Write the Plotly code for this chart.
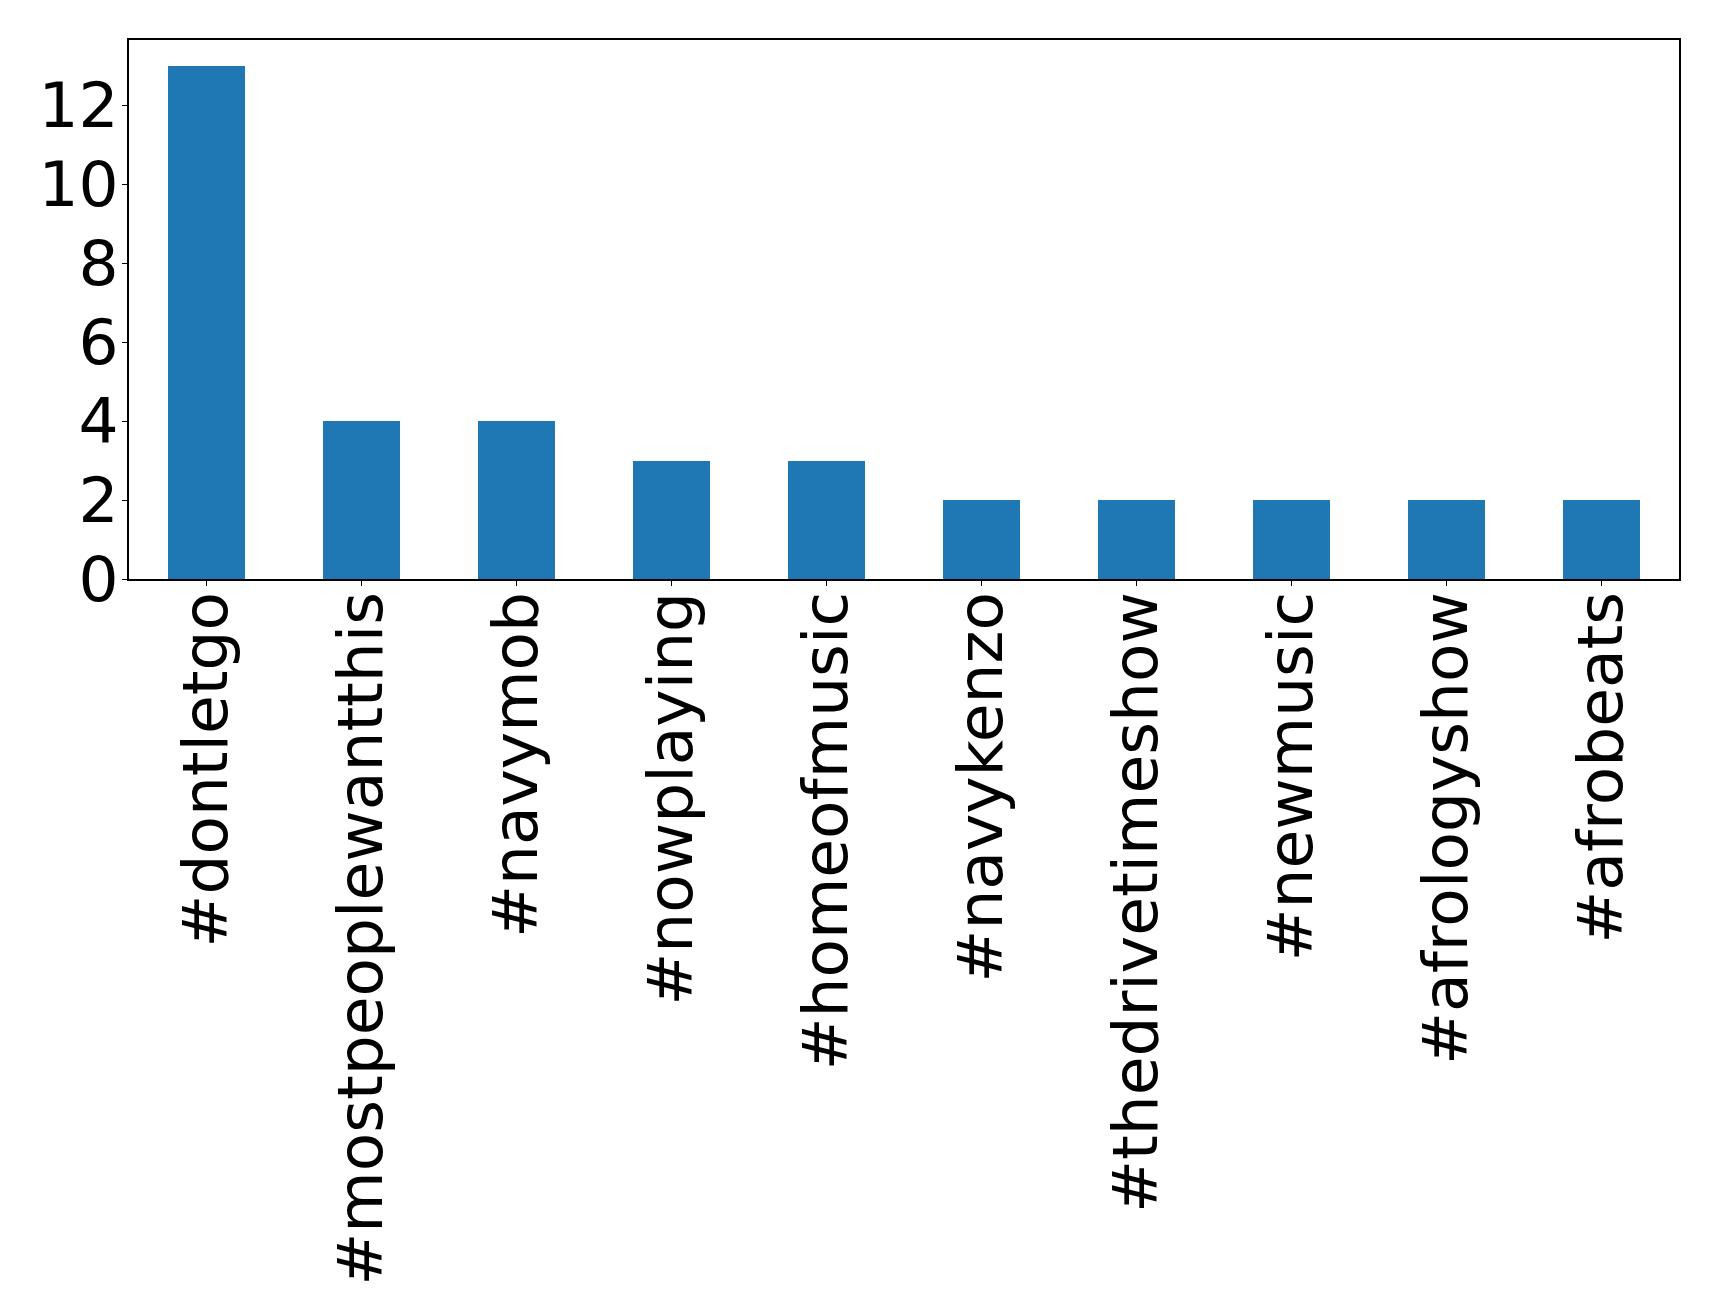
import plotly.graph_objects as go

hashtags = ["#dontletgo", "#mostpeoplewantthis", "#navymob", "#nowplaying", "#homeofmusic",
            "#navykenzo", "#thedrivetimeshow", "#newmusic", "#afrologyshow", "#afrobeats"]
counts = [13, 4, 4, 3, 3, 2, 2, 2, 2, 2]
y_ticks = [0, 2, 4, 6, 8, 10, 12]

fig = go.Figure(go.Bar(x=list(range(len(hashtags))), y=counts, width=0.5,
                       marker=dict(color="#1f77b4", line=dict(width=0))))

# page body has an 8px margin, so the figure is offset by 8px
W, H = 1711, 1308
fig.update_layout(
    width=W, height=H,
    margin=dict(l=121, r=40, t=32, b=737, pad=0),
    paper_bgcolor="white", plot_bgcolor="white",
    font=dict(family="DejaVu Sans", size=63, color="black"),
    showlegend=False,
    bargap=0,
)
fig.update_xaxes(range=[-0.5, 9.5], tickmode="array", tickvals=list(range(len(hashtags))),
                 ticktext=hashtags, tickangle=-90, ticks="outside", ticklen=5, tickwidth=1.3,
                 tickcolor="black", showline=True, linecolor="black", linewidth=1.5, mirror=True,
                 showgrid=False, zeroline=False, ticklabelstandoff=-19)
fig.update_yaxes(range=[0, 13.65], tickmode="array", tickvals=y_ticks,
                 ticks="outside", ticklen=5, tickwidth=1.3, tickcolor="black",
                 showline=True, linecolor="black", linewidth=1.5, mirror=True,
                 showgrid=False, zeroline=False, ticklabelstandoff=-9)

fig.write_html("out.html", config={"displayModeBar": False})
